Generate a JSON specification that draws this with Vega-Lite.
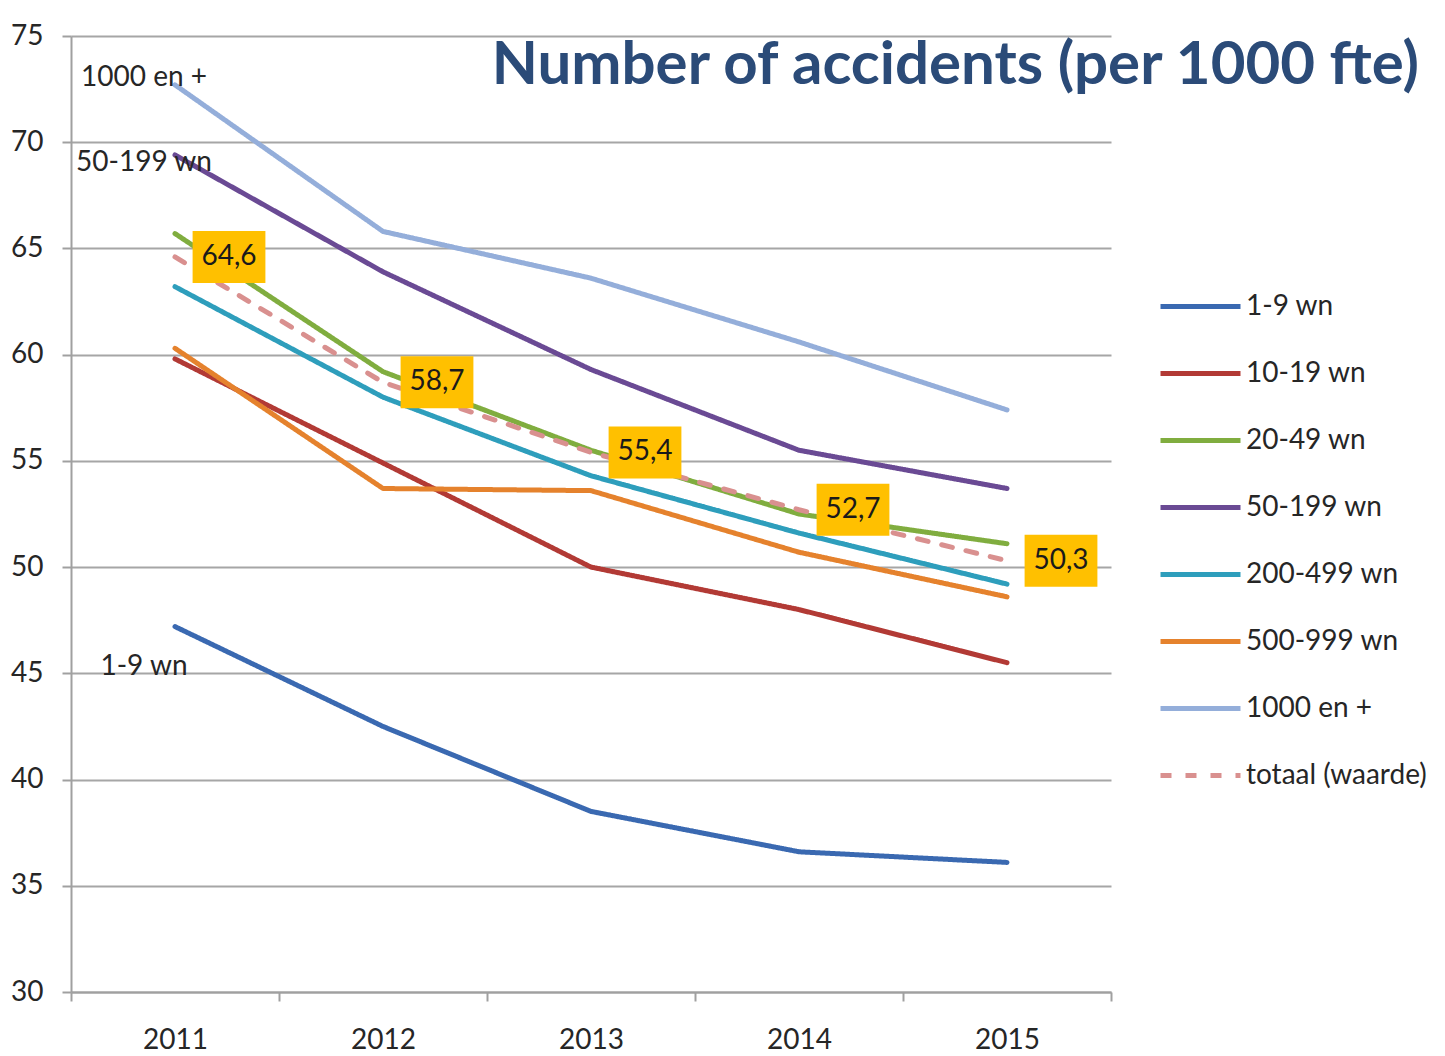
{
  "$schema": "https://vega.github.io/schema/vega-lite/v6.json",
  "width": 1040,
  "height": 956,
  "autosize": {"type": "none"},
  "padding": {"left": 71, "top": 36, "right": 334, "bottom": 64},
  "background": "white",
  "config": {
    "font": "Lato",
    "view": {"stroke": null},
    "locale": {"number": {"decimal": ",", "thousands": ".", "grouping": [3], "currency": ["€", ""]}}
  },
  "datasets": {
    "series": [
      {"year": "2011", "series": "1-9 wn", "value": 47.2},
      {"year": "2012", "series": "1-9 wn", "value": 42.5},
      {"year": "2013", "series": "1-9 wn", "value": 38.5},
      {"year": "2014", "series": "1-9 wn", "value": 36.6},
      {"year": "2015", "series": "1-9 wn", "value": 36.1},
      {"year": "2011", "series": "10-19 wn", "value": 59.8},
      {"year": "2012", "series": "10-19 wn", "value": 54.9},
      {"year": "2013", "series": "10-19 wn", "value": 50.0},
      {"year": "2014", "series": "10-19 wn", "value": 48.0},
      {"year": "2015", "series": "10-19 wn", "value": 45.5},
      {"year": "2011", "series": "20-49 wn", "value": 65.7},
      {"year": "2012", "series": "20-49 wn", "value": 59.2},
      {"year": "2013", "series": "20-49 wn", "value": 55.5},
      {"year": "2014", "series": "20-49 wn", "value": 52.5},
      {"year": "2015", "series": "20-49 wn", "value": 51.1},
      {"year": "2011", "series": "50-199 wn", "value": 69.4},
      {"year": "2012", "series": "50-199 wn", "value": 63.9},
      {"year": "2013", "series": "50-199 wn", "value": 59.3},
      {"year": "2014", "series": "50-199 wn", "value": 55.5},
      {"year": "2015", "series": "50-199 wn", "value": 53.7},
      {"year": "2011", "series": "200-499 wn", "value": 63.2},
      {"year": "2012", "series": "200-499 wn", "value": 58.0},
      {"year": "2013", "series": "200-499 wn", "value": 54.3},
      {"year": "2014", "series": "200-499 wn", "value": 51.6},
      {"year": "2015", "series": "200-499 wn", "value": 49.2},
      {"year": "2011", "series": "500-999 wn", "value": 60.3},
      {"year": "2012", "series": "500-999 wn", "value": 53.7},
      {"year": "2013", "series": "500-999 wn", "value": 53.6},
      {"year": "2014", "series": "500-999 wn", "value": 50.7},
      {"year": "2015", "series": "500-999 wn", "value": 48.6},
      {"year": "2011", "series": "1000 en +", "value": 72.7},
      {"year": "2012", "series": "1000 en +", "value": 65.8},
      {"year": "2013", "series": "1000 en +", "value": 63.6},
      {"year": "2014", "series": "1000 en +", "value": 60.6},
      {"year": "2015", "series": "1000 en +", "value": 57.4},
      {"year": "2011", "series": "totaal (waarde)", "value": 64.6},
      {"year": "2012", "series": "totaal (waarde)", "value": 58.7},
      {"year": "2013", "series": "totaal (waarde)", "value": 55.4},
      {"year": "2014", "series": "totaal (waarde)", "value": 52.7},
      {"year": "2015", "series": "totaal (waarde)", "value": 50.3}
    ],
    "notes": [
      {"year": "2011", "value": 73.0, "text": "1000 en +"},
      {"year": "2011", "value": 69.0, "text": "50-199 wn"},
      {"year": "2011", "value": 45.3, "text": "1-9 wn"}
    ],
    "heading": [
      {"year": "2015", "value": 72.75, "text": "Number of accidents (per 1000 fte)"}
    ]
  },
  "encoding": {
    "x": {
      "field": "year",
      "type": "ordinal",
      "scale": {"type": "band", "paddingInner": 0, "paddingOuter": 0},
      "axis": {
        "title": null,
        "labelAngle": 0,
        "tickBand": "extent",
        "labelFontSize": 28,
        "labelColor": "#262626",
        "labelPadding": 25,
        "tickSize": 9,
        "tickWidth": 2,
        "tickColor": "#A0A0A0",
        "domainColor": "#A0A0A0",
        "domainWidth": 2,
        "grid": false
      }
    },
    "y": {
      "field": "value",
      "type": "quantitative",
      "scale": {"domain": [30, 75], "nice": false, "zero": false},
      "axis": {
        "title": null,
        "values": [30, 35, 40, 45, 50, 55, 60, 65, 70, 75],
        "format": "d",
        "grid": true,
        "gridColor": "#A6A6A6",
        "gridWidth": 2,
        "domainColor": "#A0A0A0",
        "domainWidth": 2,
        "tickColor": "#A0A0A0",
        "tickSize": 9,
        "tickWidth": 2,
        "labelFontSize": 28,
        "labelColor": "#262626",
        "labelPadding": 19
      }
    }
  },
  "layer": [
    {
      "data": {"name": "series"},
      "mark": {"type": "line", "strokeWidth": 5, "strokeCap": "round", "strokeJoin": "round"},
      "encoding": {
        "color": {
          "field": "series",
          "type": "nominal",
          "scale": {
            "domain": ["1-9 wn", "10-19 wn", "20-49 wn", "50-199 wn", "200-499 wn", "500-999 wn", "1000 en +", "totaal (waarde)"],
            "range": ["#3A69B1", "#B23A35", "#80AD3F", "#6A4A94", "#2E9EBC", "#E5822D", "#94AEDA", "#D9908F"]
          },
          "legend": {
            "title": null,
            "orient": "none",
            "legendX": 1087,
            "legendY": 228,
            "symbolType": "stroke",
            "symbolSize": 6400,
            "symbolStrokeWidth": 5,
            "labelFontSize": 28,
            "labelColor": "#262626",
            "labelOffset": 3,
            "labelLimit": 400,
            "rowPadding": 10
          }
        },
        "strokeDash": {
          "field": "series",
          "type": "nominal",
          "scale": {
            "domain": ["1-9 wn", "10-19 wn", "20-49 wn", "50-199 wn", "200-499 wn", "500-999 wn", "1000 en +", "totaal (waarde)"],
            "range": [[1, 0], [1, 0], [1, 0], [1, 0], [1, 0], [1, 0], [1, 0], [11, 14]]
          },
          "legend": {
            "title": null,
            "orient": "none",
            "legendX": 1087,
            "legendY": 228,
            "symbolType": "stroke",
            "symbolSize": 6400,
            "symbolStrokeWidth": 5,
            "labelFontSize": 28,
            "labelColor": "#262626",
            "labelOffset": 3,
            "labelLimit": 400,
            "rowPadding": 10
          }
        },
        "order": {"field": "year"}
      }
    },
    {
      "data": {"name": "series"},
      "transform": [{"filter": "datum.series === 'totaal (waarde)'"}],
      "mark": {
        "type": "point",
        "shape": "M-1.4,-1H1.4V1H-1.4Z",
        "size": 2704,
        "filled": true,
        "color": "#FFC000",
        "opacity": 1,
        "xOffset": 54
      }
    },
    {
      "data": {"name": "series"},
      "transform": [{"filter": "datum.series === 'totaal (waarde)'"}],
      "mark": {
        "type": "text",
        "fontSize": 28,
        "color": "#1A1A1A",
        "dx": 54,
        "align": "center",
        "baseline": "middle"
      },
      "encoding": {
        "text": {"field": "value", "type": "quantitative", "format": ".1f"}
      }
    },
    {
      "data": {"name": "notes"},
      "mark": {
        "type": "text",
        "fontSize": 28,
        "color": "#262626",
        "dx": -31,
        "align": "center",
        "baseline": "middle"
      },
      "encoding": {
        "text": {"field": "text", "type": "nominal"}
      }
    },
    {
      "data": {"name": "heading"},
      "mark": {
        "type": "text",
        "font": "Lato",
        "fontSize": 60,
        "fontWeight": "bold",
        "color": "#2B4B78",
        "dx": 412,
        "align": "right",
        "baseline": "alphabetic"
      },
      "encoding": {
        "text": {"field": "text", "type": "nominal"}
      }
    }
  ]
}
